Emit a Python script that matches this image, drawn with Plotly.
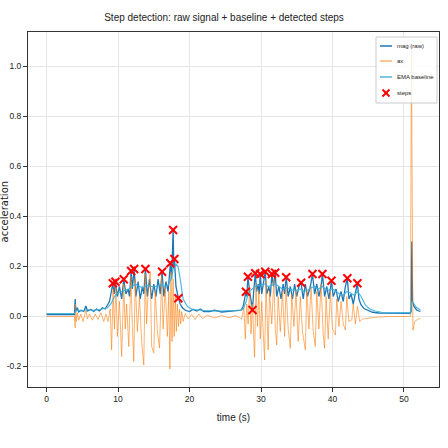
import plotly.graph_objects as go

# ---- data ----
t_mag = [0.0, 3.9, 4.0, 4.1, 4.3, 4.5, 4.8, 5.2, 5.5, 5.7, 6.2, 6.6, 7.0, 7.4, 7.8, 8.2, 8.5, 8.8, 9.0,
         9.26, 9.45, 9.64, 9.9, 10.2, 10.5, 10.8, 11.1, 11.4, 11.6, 11.83, 12.0, 12.25, 12.5, 12.8, 13.1,
         13.4, 13.6, 13.83, 14.1, 14.4, 14.7, 15.0, 15.3, 15.6, 15.9, 16.16, 16.4, 16.7, 17.0, 17.32, 17.5,
         17.7, 17.8, 17.88, 18.1, 18.3, 18.44, 18.7, 19.0, 19.4, 20.0, 20.5, 21.0, 21.5, 22.0, 22.8, 23.5,
         24.5, 25.5, 26.5, 27.2, 27.5, 27.7, 27.89, 28.0, 28.17, 28.4, 28.6, 28.81, 28.95, 29.19, 29.4, 29.6,
         29.75, 29.89, 30.1, 30.35, 30.59, 30.8, 31.1, 31.3, 31.52, 31.75, 31.98, 32.2, 32.5, 32.8, 33.1,
         33.3, 33.52, 33.8, 34.1, 34.4, 34.7, 35.0, 35.3, 35.61, 35.9, 36.2, 36.5, 36.9, 37.2, 37.5, 37.8,
         38.1, 38.4, 38.59, 38.9, 39.2, 39.5, 39.85, 40.1, 40.5, 40.8, 41.2, 41.5, 41.8, 42.08, 42.3, 42.6,
         42.9, 43.2, 43.48, 43.7, 44.0, 44.4, 45.0, 45.6, 46.5, 48.0, 50.0, 50.9, 51.0, 51.1, 51.2, 51.4,
         51.8, 52.3]
mag = [0.008, 0.008, 0.07, 0.02, 0.035, 0.018, 0.025, 0.02, 0.042, 0.022, 0.028, 0.02, 0.03, 0.022, 0.035,
       0.03, 0.045, 0.06, 0.09,
       0.133, 0.09, 0.139, 0.08, 0.12, 0.07, 0.149, 0.09, 0.11, 0.08, 0.182, 0.11, 0.19, 0.08, 0.14, 0.07,
       0.12, 0.09, 0.19, 0.08, 0.15, 0.07, 0.13, 0.08, 0.15, 0.09, 0.179, 0.08, 0.14, 0.10, 0.213, 0.15,
       0.346, 0.20, 0.23, 0.12, 0.09, 0.073, 0.05, 0.035, 0.025, 0.02, 0.028, 0.022, 0.03, 0.02, 0.02, 0.025,
       0.018, 0.02, 0.022, 0.025, 0.04, 0.07, 0.099, 0.08, 0.159, 0.10, 0.06, 0.03, 0.09, 0.173, 0.10, 0.13,
       0.09, 0.170, 0.09, 0.14, 0.179, 0.09, 0.12, 0.08, 0.170, 0.12, 0.175, 0.08, 0.12, 0.07, 0.13,
       0.09, 0.157, 0.08, 0.12, 0.07, 0.13, 0.08, 0.12, 0.135, 0.07, 0.13, 0.08, 0.12, 0.17, 0.09, 0.13,
       0.08, 0.12, 0.17, 0.08, 0.12, 0.07, 0.143, 0.08, 0.11, 0.06, 0.10, 0.06, 0.12, 0.153, 0.07, 0.09,
       0.05, 0.09, 0.133, 0.07, 0.046, 0.032, 0.024, 0.017, 0.014, 0.013, 0.013, 0.013, 0.02, 0.30, 0.06, 0.04,
       0.025, 0.02]

t_ax = [0.0, 3.9, 4.0, 4.05, 4.15, 4.3, 4.5, 4.8, 5.1, 5.5, 5.7, 6.0, 6.4, 6.8, 7.2, 7.6, 8.0, 8.3, 8.6, 8.9,
        9.1, 9.3, 9.5, 9.7, 9.9, 10.2, 10.5, 10.8, 11.0, 11.2, 11.5, 11.8, 12.0, 12.2, 12.4, 12.7, 13.0,
        13.3, 13.6, 13.8, 14.0, 14.2, 14.5, 14.7, 15.0, 15.2, 15.5, 15.8, 16.1, 16.3, 16.6, 16.9, 17.1,
        17.25, 17.4, 17.55, 17.7, 17.85, 18.0, 18.15, 18.3, 18.45, 18.6, 18.75, 18.9, 19.1, 19.4, 19.8,
        20.3, 20.8, 21.3, 21.8, 22.5, 23.5, 24.5, 25.5, 26.5, 27.3, 27.6, 27.8, 28.0, 28.2, 28.4, 28.6,
        28.8, 29.1, 29.3, 29.5, 29.7, 29.9, 30.1, 30.5, 30.7, 31.0, 31.2, 31.5, 31.8, 32.0, 32.2, 32.4,
        32.7, 33.0, 33.3, 33.5, 33.8, 34.1, 34.3, 34.6, 34.9, 35.2, 35.5, 35.8, 36.2, 36.4, 36.7, 37.0,
        37.3, 37.6, 37.8, 38.1, 38.4, 38.7, 38.9, 39.1, 39.4, 39.7, 40.0, 40.4, 40.6, 40.9, 41.2, 41.5,
        41.8, 42.0, 42.3, 42.7, 42.9, 43.2, 43.5, 43.8, 44.2, 45.0, 46.0, 48.0, 50.9, 51.05, 51.15,
        51.25, 51.5, 52.0, 52.3]
ax = [0.0, 0.0, -0.045, 0.05, -0.02, 0.015, -0.015, 0.01, -0.02, 0.025, -0.01, 0.01, -0.015, 0.01, -0.012,
      0.015, -0.02, 0.01, -0.02, 0.03,
      -0.134, 0.11, -0.05, 0.12, -0.08, 0.06, -0.16, 0.13, -0.05, 0.05, -0.12, 0.16, -0.04, -0.18, 0.15,
      -0.06, 0.08, -0.10, -0.194, 0.17, -0.03, 0.10, 0.18, -0.12, -0.146, 0.10, -0.06, -0.126, 0.16, -0.05,
      0.12, -0.08, 0.10, -0.21, 0.18, -0.10, 0.15, -0.08, 0.08, -0.06, 0.05, -0.04, 0.03, -0.03, 0.02,
      -0.02, 0.012, -0.01, 0.008, -0.012, 0.01, -0.008, 0.005, -0.006, 0.004, -0.005, 0.003, -0.01, 0.04,
      -0.09, 0.05, -0.03, 0.12, -0.07, 0.05, -0.163, 0.13, -0.04, 0.10, -0.09, 0.06, -0.174, 0.14, -0.134,
      0.10, -0.03, 0.15, -0.05, -0.114, 0.08, -0.06, 0.10, -0.08, 0.12, -0.05, -0.127, 0.09, -0.04, 0.10,
      -0.10, 0.08, -0.06, -0.134, 0.11, -0.05, 0.12, -0.06, -0.12, 0.10, -0.05, 0.13, -0.07, -0.127, 0.08,
      -0.09, 0.10, -0.05, -0.074, 0.07, -0.04, 0.06, -0.03, -0.054, 0.08, -0.02, -0.014, 0.05, -0.03, 0.04,
      -0.02, -0.01, -0.006, -0.003, 0.0, 0.0, 1.07, 0.05, -0.055, -0.02, -0.01, -0.008]

t_ema = [0.0, 3.9, 4.1, 4.5, 5.0, 5.6, 6.5, 7.5, 8.5, 9.0, 9.5, 10.0, 10.5, 11.0, 11.5, 12.0, 12.5, 13.0,
         13.5, 14.0, 14.5, 15.0, 15.5, 16.0, 16.5, 17.0, 17.4, 17.8, 18.1, 18.4, 18.7, 19.1, 19.7, 20.3,
         21.0, 22.0, 24.0, 27.0, 27.5, 27.9, 28.3, 28.8, 29.2, 29.8, 30.5, 31.0, 31.5, 32.0, 32.5, 33.0,
         33.5, 34.0, 34.5, 35.0, 35.5, 36.0, 36.5, 37.0, 37.5, 38.0, 38.6, 39.0, 39.5, 40.0, 40.5, 41.0,
         41.5, 42.0, 42.5, 43.0, 43.5, 44.0, 44.6, 45.2, 46.0, 47.0, 48.0, 50.9, 51.1, 51.3, 51.6, 52.0, 52.3]
ema = [0.012, 0.012, 0.025, 0.024, 0.022, 0.028, 0.025, 0.028, 0.035, 0.05, 0.08, 0.095, 0.10, 0.108,
       0.11, 0.122, 0.128, 0.12, 0.115, 0.125, 0.12, 0.118, 0.122, 0.126, 0.12, 0.125, 0.15, 0.20, 0.21,
       0.20, 0.15, 0.07, 0.04, 0.03, 0.027, 0.024, 0.022, 0.024, 0.03, 0.06, 0.10, 0.11, 0.12, 0.125, 0.13,
       0.12, 0.125, 0.13, 0.12, 0.11, 0.115, 0.11, 0.105, 0.105, 0.11, 0.10, 0.105, 0.115, 0.12, 0.11,
       0.12, 0.11, 0.105, 0.11, 0.10, 0.09, 0.085, 0.10, 0.095, 0.085, 0.10, 0.08, 0.045, 0.03, 0.022,
       0.016, 0.015, 0.015, 0.06, 0.055, 0.04, 0.03, 0.025]

t_steps = [9.26, 9.64, 10.80, 11.83, 12.25, 13.83, 16.16, 17.32, 17.70, 17.88, 18.44,
           27.89, 28.17, 28.81, 29.19, 29.89, 30.59, 31.52, 31.98, 33.52, 35.61, 37.20, 38.59,
           39.85, 42.08, 43.48]
steps = [0.133, 0.139, 0.149, 0.182, 0.190, 0.190, 0.179, 0.213, 0.346, 0.230, 0.073,
         0.099, 0.159, 0.026, 0.173, 0.170, 0.179, 0.170, 0.175, 0.157, 0.135, 0.170, 0.170,
         0.143, 0.153, 0.133]

x_ticks = [0, 10, 20, 30, 40, 50]
y_ticks = [-0.2, 0.0, 0.2, 0.4, 0.6, 0.8, 1.0]
legend_labels = ["mag (raw)", "ax", "EMA baseline", "steps"]

FONT = "Liberation Sans Narrow, Liberation Sans, Arial, sans-serif"
C_MAG = "#1f77b4"
C_AX = "rgba(255,127,14,0.6)"
C_EMA = "rgba(60,175,220,0.9)"

fig = go.Figure()
fig.add_trace(go.Scatter(x=t_mag, y=mag, mode="lines", name=legend_labels[0],
                         line=dict(color=C_MAG, width=1.3)))
fig.add_trace(go.Scatter(x=t_ax, y=ax, mode="lines", name=legend_labels[1],
                         line=dict(color=C_AX, width=1)))
fig.add_trace(go.Scatter(x=t_ema, y=ema, mode="lines", name=legend_labels[2],
                         line=dict(color=C_EMA, width=1.2)))
fig.add_trace(go.Scatter(x=t_steps, y=steps, mode="markers", name=legend_labels[3],
                         marker=dict(symbol="x-thin", size=8, color="red",
                                     line=dict(color="red", width=2))))

axis_common = dict(showgrid=True, gridcolor="#e6e6e6", gridwidth=1, zeroline=False,
                   showline=True, linecolor="#333", linewidth=1, mirror=True,
                   ticks="outside", ticklen=4, tickcolor="#333", automargin=False,
                   tickfont=dict(family=FONT, size=8.5, color="#222"))

# plot-area geometry in pixels (for placing the legend box)
L, R, T, B = 28, 439, 32, 387
def px(xp):
    return (xp - L) / (R - L)
def py(yp):
    return (B - yp) / (B - T)

shapes = []
annotations = []
# legend frame
shapes.append(dict(type="rect", xref="paper", yref="paper",
                   x0=px(376), x1=px(437), y0=py(103), y1=py(37),
                   line=dict(color="#cccccc", width=1), fillcolor="rgba(255,255,255,0.85)", layer="above"))
entry_y = [46, 61, 77, 93]
line_colors = [C_MAG, C_AX, C_EMA]
for i, lab in enumerate(legend_labels):
    yy = py(entry_y[i])
    if i < 3:
        shapes.append(dict(type="line", xref="paper", yref="paper",
                           x0=px(380), x1=px(392), y0=yy, y1=yy,
                           line=dict(color=line_colors[i], width=1.5), layer="above"))
    else:
        for (a, b) in [((382.5, entry_y[i] - 3.5), (389.5, entry_y[i] + 3.5)),
                       ((382.5, entry_y[i] + 3.5), (389.5, entry_y[i] - 3.5))]:
            shapes.append(dict(type="line", xref="paper", yref="paper",
                               x0=px(a[0]), x1=px(b[0]), y0=py(a[1]), y1=py(b[1]),
                               line=dict(color="red", width=2), layer="above"))
    annotations.append(dict(text=lab, xref="paper", yref="paper", x=px(395), y=yy,
                            xanchor="left", yanchor="middle", showarrow=False,
                            font=dict(family=FONT, size=6, color="#222")))
# y-axis title
annotations.append(dict(text="acceleration", xref="paper", yref="paper", x=px(-3), y=py(212),
                        xanchor="left", yanchor="middle", textangle=-90, showarrow=False,
                        borderpad=0,
                        font=dict(family="DejaVu Sans", size=10, color="#222")))

fig.update_layout(
    width=448, height=448,
    margin=dict(l=L, r=448 - R, t=T, b=448 - B),
    paper_bgcolor="white", plot_bgcolor="white",
    title=dict(text="Step detection: raw signal + baseline + detected steps",
               x=0.5, xanchor="center", y=1 - 17 / 448, yanchor="middle",
               font=dict(family=FONT, size=10, color="#222")),
    xaxis=dict(range=[-2.6, 54.9], tickvals=x_ticks, ticktext=[str(v) for v in x_ticks],
               title=dict(text="time (s)", font=dict(family=FONT, size=10, color="#222"), standoff=10),
               **axis_common),
    yaxis=dict(range=[-0.282, 1.138], tickvals=y_ticks, ticktext=[f"{v:.1f}" for v in y_ticks],
               **axis_common),
    shapes=shapes, annotations=annotations,
    showlegend=False,
)

fig.write_html("out.html")
